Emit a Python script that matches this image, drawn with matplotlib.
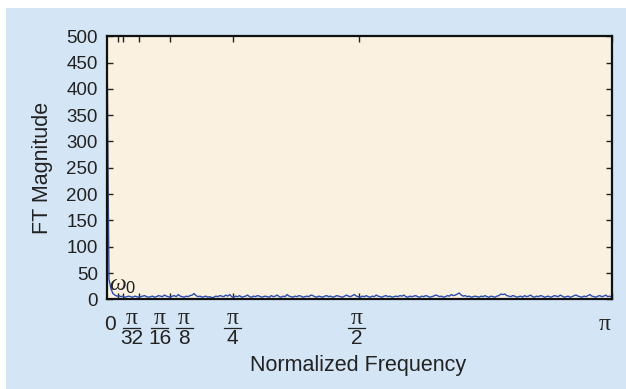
import numpy as np
import matplotlib
matplotlib.use("Agg")
import matplotlib.pyplot as plt
from matplotlib.patches import Rectangle
from matplotlib.lines import Line2D

plt.rcParams['font.family'] = ['Liberation Sans', 'DejaVu Sans']
plt.rcParams['mathtext.fontset'] = 'custom'
plt.rcParams['mathtext.it'] = 'Liberation Serif:italic'
plt.rcParams['mathtext.rm'] = 'Liberation Sans'

# ---- data ----
magnitude = [
    490, 38, 20, 11, 8, 6, 7, 5, 6, 4, 5, 6, 5, 4, 6, 5,
    4, 5, 6, 7, 5, 4, 5, 6, 4, 5, 7, 6, 5, 8, 6, 5,
    4, 6, 7, 5, 9, 6, 5, 4, 6, 5, 7, 8, 11, 7, 5, 6,
    4, 5, 6, 4, 5, 3, 4, 6, 5, 7, 6, 5, 8, 6, 9, 5,
    4, 6, 5, 7, 4, 5, 6, 8, 5, 4, 6, 5, 7, 6, 4, 5,
    6, 5, 4, 7, 5, 6, 8, 5, 4, 6, 5, 9, 6, 5, 4, 6,
    5, 7, 6, 4, 5, 6, 5, 8, 7, 5, 4, 6, 5, 4, 6, 7,
    5, 6, 4, 5, 7, 6, 5, 4, 6, 8, 6, 5, 7, 9, 6, 5,
    4, 6, 5, 7, 5, 4, 6, 5, 8, 6, 5, 4, 6, 7, 5, 6,
    4, 5, 6, 5, 7, 6, 8, 5, 4, 6, 5, 6, 7, 5, 4, 6,
    5, 7, 6, 4, 5, 6, 8, 7, 5, 6, 4, 5, 7, 6, 9, 7,
    8, 10, 12, 8, 6, 7, 5, 6, 4, 5, 6, 5, 4, 6, 5, 7,
    5, 4, 6, 5, 4, 6, 7, 10, 9, 10, 7, 6, 5, 7, 6, 4,
    5, 6, 4, 7, 5, 6, 8, 5, 4, 6, 5, 7, 6, 4, 5, 6,
    4, 5, 7, 6, 5, 8, 6, 4, 5, 6, 4, 5, 7, 8, 6, 5,
    4, 6, 5, 7, 9, 6, 5, 4, 6, 7, 5, 6, 8, 5, 6, 4,
]
frequency = np.linspace(0, np.pi, len(magnitude))

x_tick_values = [0, np.pi / 32, np.pi / 16, np.pi / 8, np.pi / 4, np.pi / 2, np.pi]
x_tick_numer = ['0', 'π', 'π', 'π', 'π', 'π', 'π']
x_tick_denom = [None, '32', '16', '8', '4', '2', None]
x_label_shift_px = [3, 9, 21, 14, -1, -3, -7]   # label nudges to avoid overlap
omega0_tick = 0.066
y_ticks = [0, 50, 100, 150, 200, 250, 300, 350, 400, 450, 500]

TXT = '#222222'
W, H = 626, 389
fig = plt.figure(figsize=(W / 100, H / 100), dpi=100, facecolor='white')
fig.add_artist(Rectangle((6 / W, 0), 1, (H - 7.5) / H, transform=fig.transFigure,
                         facecolor='#d4e6f5', edgecolor='none', zorder=-10))

ax_l, ax_r, ax_t, ax_b = 107, 611.7, 36.3, 299.3
ax = fig.add_axes([ax_l / W, (H - ax_b) / H, (ax_r - ax_l) / W, (ax_b - ax_t) / H])
ax.set_facecolor('#faf1e0')

ax.plot(frequency, magnitude, color='#2a4cb0', linewidth=1.0)

ax.set_xlim(0, np.pi)
ax.set_ylim(0, 500)
ax.set_yticks(y_ticks)
ax.set_yticklabels([str(v) for v in y_ticks], fontsize=13.5)
ax.set_xticks([omega0_tick] + x_tick_values[1:])
ax.set_xticklabels([])
ax.tick_params(axis='both', direction='in', length=4, width=1, color=TXT,
               top=True, right=True, labelcolor=TXT)
ax.tick_params(axis='y', pad=6.5)
for s in ax.spines.values():
    s.set_linewidth(1.6)
    s.set_color('#111111')

ax.text(0.012, 16, r'$\omega_0$', fontsize=17, color=TXT, va='baseline', ha='left')

ax.set_ylabel('FT Magnitude', fontsize=15.5, color=TXT)
ax.yaxis.set_label_coords((53 - ax_l) / (ax_r - ax_l), 0.5)
fig.text(358 / W, (H - 366) / H, 'Normalized Frequency', fontsize=15.5,
         color=TXT, ha='center', va='center')

# fraction tick labels
fig.canvas.draw()
for val, num, den, sh in zip(x_tick_values, x_tick_numer, x_tick_denom, x_label_shift_px):
    xpx = ax.transData.transform((val, 0))[0] + sh
    xf = xpx / W
    if den is None:
        fam = 'Liberation Serif' if num == 'π' else 'Liberation Sans'
        fig.text(xf, (H - 325) / H, num, fontsize=17 if num == 'π' else 15,
                 family=fam, color=TXT, ha='center', va='center')
    else:
        fig.text(xf, (H - 318) / H, num, fontsize=17, family='Liberation Serif',
                 color=TXT, ha='center', va='center')
        fig.add_artist(Line2D([(xpx - 8.5) / W, (xpx + 8.5) / W],
                              [(H - 327.5) / H, (H - 327.5) / H],
                              transform=fig.transFigure, color=TXT, linewidth=0.9))
        fig.text(xf, (H - 338.5) / H, den, fontsize=15, color=TXT,
                 ha='center', va='center')

fig.savefig('out.png', dpi=100, facecolor=fig.get_facecolor())
